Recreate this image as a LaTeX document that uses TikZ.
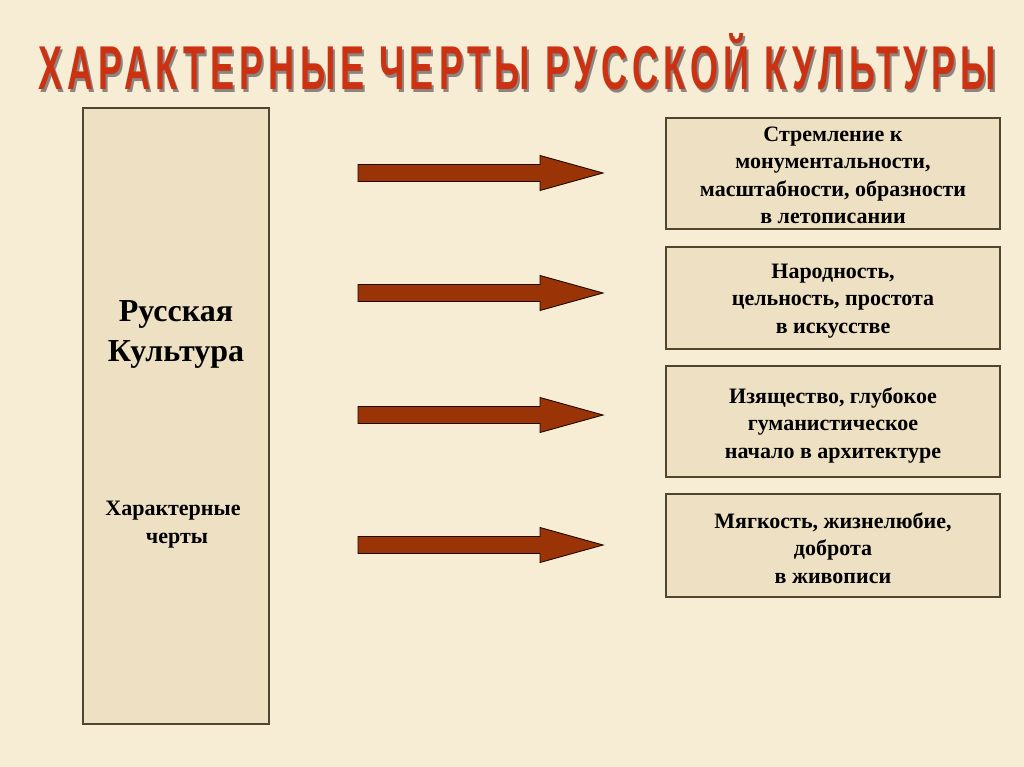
\documentclass[tikz,border=0pt]{standalone}
\usepackage{fontspec}
\setmainfont{Liberation Serif}
\newfontfamily\titlefont[LetterSpace=14]{Liberation Sans}
\definecolor{bgcol}{HTML}{F6EDD4}
\definecolor{boxcol}{HTML}{EEE0C2}
\definecolor{boxline}{HTML}{4F4630}
\definecolor{arrowcol}{HTML}{9A3306}
\definecolor{titlered}{HTML}{CC3212}
\definecolor{shadowgray}{HTML}{8A8580}
\newcommand{\titletext}{\titlefont\bfseries ХАРАКТЕРНЫЕ ЧЕРТЫ РУССКОЙ КУЛЬТУРЫ}
\tikzset{
  featbox/.style={draw=boxline, line width=1.2pt, fill=boxcol, minimum width=334pt, inner sep=0pt},
  feattext/.style={align=center, font=\fontsize{22}{27.5}\selectfont\bfseries, inner sep=0pt},
  bigarrow/.style={draw=black!80!arrowcol, line width=0.9pt, fill=arrowcol}
}
\begin{document}
\begin{tikzpicture}[x=1pt,y=-1pt]
\useasboundingbox (0,0) rectangle (1024,767);
\fill[bgcol] (0,0) rectangle (1024,767);
% title with shadow, one text node
\node[inner sep=0pt] (title) at (517,63)
  {\resizebox{957pt}{56pt}{\rlap{\raisebox{-0.55pt}{\hspace*{0.55pt}\textcolor{shadowgray}{\titletext}}}\textcolor{titlered}{\titletext}}};
% left box
\node[draw=boxline, line width=1.2pt, fill=boxcol, minimum width=186pt, minimum height=616pt, inner sep=0pt] (left) at (176,416) {};
\node[font=\fontsize{32}{40}\selectfont\bfseries, align=center] (lt1) at (176,334) {Русская\\Культура};
\node[font=\fontsize{22}{28}\selectfont\bfseries, align=center] (lt2) at (173,525) {Характерные\\\hspace*{8pt}черты};
% right boxes
\node[featbox, minimum height=111pt] (b1) at (833,173.5) {};
\node[feattext] (t1) at (833,175.5) {Стремление к\\монументальности,\\масштабности, образности\\в летописании};
\node[featbox, minimum height=102pt] (b2) at (833,298) {};
\node[feattext] (t2) at (833,301) {Народность,\\цельность, простота\\в искусстве};
\node[featbox, minimum height=111pt] (b3) at (833,421.5) {};
\node[feattext] (t3) at (833,425) {Изящество, глубокое\\гуманистическое\\начало в архитектуре};
\node[featbox, minimum height=103pt] (b4) at (833,545.5) {};
\node[feattext] (t4) at (833,548) {Мягкость, жизнелюбие,\\доброта\\в живописи};
% arrows
\foreach \y/\n in {173/1,293/2,415/3,545/4}{
  \coordinate (a\n s) at (358,\y);
  \coordinate (a\n e) at (603,\y);
  \draw[bigarrow] (a\n s) ++(0,-8.5) -- ++(182,0) -- ++(0,-9) -- (a\n e) -- ++(-63,17.5) -- ++(0,-9) -- ++(-182,0) -- cycle;
}
\end{tikzpicture}
\end{document}
